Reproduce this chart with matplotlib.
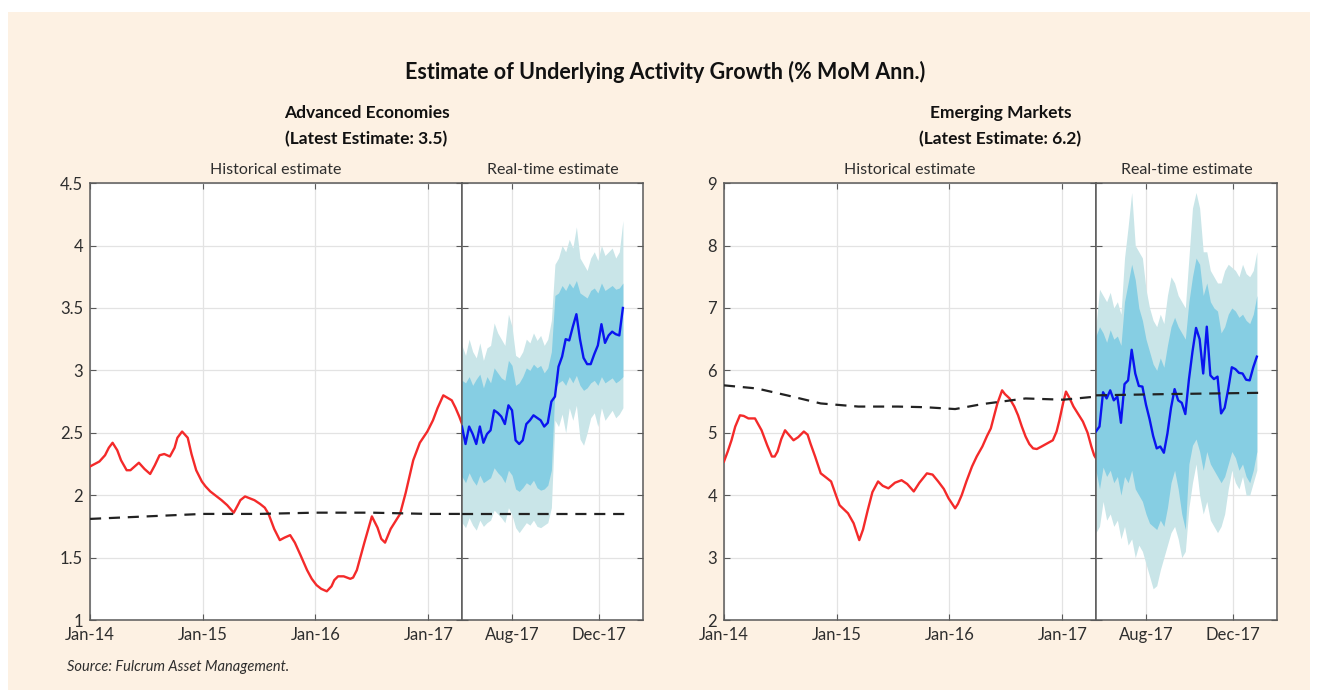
import numpy as np
import pandas as pd
import matplotlib
matplotlib.use("Agg")
import matplotlib.pyplot as plt
import matplotlib.dates as mdates
from matplotlib.patches import Rectangle

plt.rcParams['font.family'] = ['Lato', 'DejaVu Sans']

# ---------------- data ----------------
# historical part: months since Jan-14
ae_hist_month = [0, 1.0, 1.6, 2.0, 2.4, 2.9, 3.3, 3.9, 4.3, 4.6, 5.2, 5.8, 6.4, 6.9, 7.4, 7.9, 8.5, 9.0,
                 9.3, 9.8, 10.4, 10.8, 11.3, 11.9, 12.3, 12.8, 14.0, 14.6, 15.3, 15.8, 16.0, 16.5, 17.5,
                 18.1, 18.6, 19.0, 19.6, 20.2, 20.7, 21.3, 21.8, 22.4, 23.1, 23.6, 24.1, 24.6, 25.2,
                 25.7, 26.0, 26.4, 27.0, 27.7, 28.0, 28.4, 29.2, 30.0, 30.6, 31.0, 31.4, 32.0, 33.0,
                 33.6, 34.4, 35.1, 35.9, 36.5, 37.0, 37.6, 38.5, 38.9, 39.3, 39.6]
ae_hist_value = [2.23, 2.27, 2.32, 2.38, 2.42, 2.36, 2.28, 2.20, 2.20, 2.22, 2.26, 2.21, 2.17, 2.24, 2.32,
                 2.33, 2.31, 2.38, 2.46, 2.51, 2.46, 2.33, 2.20, 2.11, 2.07, 2.03, 1.96, 1.92, 1.86,
                 1.93, 1.96, 1.99, 1.96, 1.93, 1.90, 1.85, 1.73, 1.64, 1.66, 1.68, 1.62, 1.52, 1.40,
                 1.33, 1.28, 1.25, 1.23, 1.27, 1.32, 1.35, 1.35, 1.33, 1.34, 1.40, 1.62, 1.83, 1.74,
                 1.65, 1.62, 1.73, 1.85, 2.02, 2.28, 2.42, 2.51, 2.60, 2.70, 2.80, 2.76, 2.70, 2.63, 2.57]
ae_trend_month = [0, 6, 12, 18, 24, 30, 36, 39.6]
ae_trend_value = [1.81, 1.83, 1.85, 1.85, 1.86, 1.86, 1.85, 1.85]

em_hist_month = [0, 0.4, 0.8, 1.2, 1.7, 2.1, 2.6, 3.3, 4.0, 4.6, 5.1, 5.4, 5.7, 6.1, 6.5, 7.0, 7.4, 7.9,
                 8.5, 8.9, 9.2, 9.7, 10.3, 10.9, 11.4, 11.8, 12.3, 13.2, 13.8, 14.4, 14.8, 15.3, 15.8,
                 16.4, 16.9, 17.5, 18.2, 18.9, 19.5, 20.2, 20.8, 21.6, 22.2, 22.8, 23.4, 23.9, 24.6,
                 24.9, 25.3, 25.8, 26.4, 26.9, 27.5, 28.0, 28.4, 28.8, 29.1, 29.6, 29.9, 30.4, 30.9,
                 31.3, 31.7, 32.1, 32.5, 32.9, 33.3, 33.8, 34.4, 35.0, 35.4, 35.7, 36.1, 36.4, 36.8,
                 37.2, 37.7, 38.2, 38.7, 39.1, 39.4, 39.6]
em_hist_value = [4.54, 4.70, 4.88, 5.10, 5.28, 5.27, 5.23, 5.23, 5.04, 4.80, 4.62, 4.62, 4.70, 4.90, 5.04,
                 4.95, 4.88, 4.93, 5.02, 4.97, 4.83, 4.62, 4.35, 4.28, 4.22, 4.05, 3.84, 3.71, 3.55,
                 3.28, 3.45, 3.76, 4.05, 4.22, 4.15, 4.11, 4.20, 4.24, 4.18, 4.06, 4.20, 4.35, 4.33,
                 4.22, 4.10, 3.95, 3.79, 3.86, 4.00, 4.22, 4.46, 4.62, 4.78, 4.95, 5.07, 5.30, 5.47,
                 5.68, 5.62, 5.55, 5.42, 5.28, 5.10, 4.94, 4.82, 4.75, 4.74, 4.78, 4.83, 4.88, 5.02,
                 5.20, 5.48, 5.66, 5.55, 5.42, 5.30, 5.18, 5.00, 4.78, 4.64, 4.59]
em_trend_month = [0, 3.5, 6.7, 10.3, 14.3, 18.5, 21.4, 24.6, 27.5, 32.1, 36.1, 39.6]
em_trend_value = [5.76, 5.71, 5.60, 5.47, 5.42, 5.42, 5.41, 5.38, 5.46, 5.55, 5.53, 5.58]

# real-time part: days since 23 May 2017, every 5 days
rt_day = list(range(0, 226, 5))

ae_rt = [2.55, 2.41, 2.55, 2.49, 2.41, 2.55, 2.42, 2.49, 2.52, 2.68, 2.66, 2.63, 2.57, 2.72, 2.68, 2.44,
         2.41, 2.44, 2.57, 2.60, 2.64, 2.62, 2.60, 2.55, 2.58, 2.75, 2.79, 3.03, 3.11, 3.25, 3.24, 3.35,
         3.45, 3.25, 3.10, 3.05, 3.05, 3.13, 3.20, 3.37, 3.22, 3.28, 3.31, 3.29, 3.28, 3.50]
ae_inner_hi = [2.92, 2.90, 2.95, 2.88, 2.93, 2.97, 2.86, 2.95, 2.90, 3.02, 2.98, 2.94, 2.92, 3.08, 3.04, 2.88,
               2.90, 2.95, 3.02, 3.00, 3.05, 3.02, 3.04, 2.98, 3.02, 3.15, 3.60, 3.62, 3.68, 3.64, 3.70, 3.66,
               3.72, 3.62, 3.60, 3.58, 3.64, 3.66, 3.62, 3.70, 3.64, 3.66, 3.68, 3.65, 3.66, 3.70]
ae_inner_lo = [2.15, 2.10, 2.18, 2.12, 2.08, 2.16, 2.10, 2.12, 2.14, 2.22, 2.18, 2.15, 2.10, 2.20, 2.16, 2.05,
               2.03, 2.06, 2.10, 2.08, 2.12, 2.06, 2.04, 2.05, 2.08, 2.20, 2.85, 2.90, 2.92, 2.88, 2.95, 2.90,
               2.96, 2.88, 2.84, 2.86, 2.90, 2.92, 2.88, 2.95, 2.90, 2.92, 2.94, 2.90, 2.92, 2.95]
ae_outer_hi = [3.20, 3.12, 3.25, 3.15, 3.10, 3.22, 3.08, 3.18, 3.20, 3.38, 3.30, 3.25, 3.20, 3.45, 3.35, 3.12,
               3.10, 3.15, 3.25, 3.22, 3.30, 3.24, 3.28, 3.20, 3.25, 3.40, 3.85, 3.90, 4.00, 3.95, 4.05, 3.98,
               4.15, 3.90, 3.85, 3.80, 3.90, 3.95, 3.88, 4.00, 3.92, 3.95, 3.98, 3.90, 3.95, 4.20]
ae_outer_lo = [1.78, 1.74, 1.82, 1.76, 1.72, 1.80, 1.75, 1.78, 1.80, 1.88, 1.85, 1.82, 1.78, 1.90, 1.84, 1.74,
               1.70, 1.74, 1.78, 1.76, 1.80, 1.75, 1.74, 1.76, 1.78, 1.90, 2.60, 2.55, 2.65, 2.50, 2.70, 2.60,
               2.72, 2.45, 2.40, 2.50, 2.62, 2.66, 2.55, 2.70, 2.60, 2.64, 2.68, 2.62, 2.65, 2.70]
ae_rt_trend_day = [0, 228]
ae_rt_trend_value = [1.85, 1.85]

em_rt = [5.02, 5.10, 5.65, 5.55, 5.68, 5.52, 5.58, 5.16, 5.78, 5.84, 6.33, 5.95, 5.75, 5.74, 5.45, 5.22,
         4.95, 4.75, 4.78, 4.68, 4.99, 5.40, 5.70, 5.52, 5.48, 5.30, 5.85, 6.30, 6.68, 6.50, 5.95, 6.70,
         5.92, 5.86, 5.90, 5.31, 5.40, 5.70, 6.05, 6.02, 5.96, 5.95, 5.85, 5.84, 6.05, 6.22]
em_inner_hi = [6.55, 6.70, 6.60, 6.45, 6.65, 6.50, 6.55, 6.40, 7.10, 7.40, 7.70, 7.45, 7.00, 6.80, 6.50, 6.30,
               6.10, 6.00, 6.20, 6.05, 6.40, 6.70, 6.85, 6.70, 6.60, 6.50, 7.10, 7.50, 7.80, 7.70, 7.20, 7.40,
               7.10, 7.00, 6.95, 6.60, 6.70, 6.90, 7.00, 6.95, 6.85, 6.90, 6.80, 6.75, 6.90, 7.20]
em_inner_lo = [4.40, 4.10, 4.45, 4.30, 4.40, 4.20, 4.30, 4.00, 4.30, 4.20, 4.40, 4.10, 4.00, 3.90, 3.70, 3.55,
               3.50, 3.45, 3.60, 3.50, 3.80, 4.20, 4.40, 4.10, 3.70, 3.45, 4.50, 4.80, 4.90, 4.70, 4.40, 4.70,
               4.50, 4.40, 4.30, 4.20, 4.30, 4.50, 4.70, 4.60, 4.40, 4.50, 4.30, 4.20, 4.40, 4.70]
em_outer_hi = [6.70, 7.30, 7.20, 7.10, 7.25, 7.00, 7.10, 6.90, 7.80, 8.30, 8.85, 8.00, 7.90, 7.80, 7.30, 7.00,
               6.80, 6.70, 6.90, 6.75, 7.20, 7.50, 7.40, 7.20, 7.10, 7.00, 7.80, 8.60, 8.85, 8.60, 7.90, 7.90,
               7.60, 7.50, 7.40, 7.40, 7.60, 7.70, 7.65, 7.60, 7.50, 7.70, 7.55, 7.50, 7.60, 7.90]
em_outer_lo = [3.40, 3.50, 3.90, 3.60, 3.70, 3.50, 3.60, 3.30, 3.50, 3.20, 3.30, 3.00, 3.20, 3.10, 2.90, 2.70,
               2.50, 2.55, 2.80, 3.00, 3.20, 3.40, 3.50, 3.30, 3.00, 3.10, 3.80, 4.20, 4.50, 4.00, 3.70, 3.90,
               3.60, 3.50, 3.40, 3.50, 3.70, 4.10, 4.40, 4.20, 4.10, 4.30, 4.00, 4.00, 4.20, 4.40]
em_rt_trend_day = [0, 100, 228]
em_rt_trend_value = [5.60, 5.62, 5.64]

hist_ticks = ['2014-01-01', '2015-01-01', '2016-01-01', '2017-01-01']
rt_ticks = ['2017-08-01', '2017-12-01']

# ---------------- style ----------------
BG = '#FDF1E3'
RED = '#F42A2A'
BLUE = '#0A14F0'
INNER = '#86CEE3'
OUTER = '#C9E5E8'
GRID = '#E3E3E3'
SPINE = '#5A5A5A'
TXT = '#2E2E2E'

HIST_START = pd.Timestamp('2014-01-01')
HIST_END = pd.Timestamp('2017-04-20')
RT_START = pd.Timestamp('2017-05-23')
RT_END = pd.Timestamp('2018-01-31')


def month_to_date(months):
    return HIST_START + pd.to_timedelta(np.array(months) * 30.44, unit='D')


def day_to_date(days):
    return RT_START + pd.to_timedelta(np.array(days), unit='D')


def style_axis(ax, ylim, yticks, xticks, show_ylabels):
    ax.set_ylim(*ylim)
    ax.set_yticks(yticks)
    ax.set_xticks([pd.Timestamp(t) for t in xticks])
    ax.xaxis.set_major_formatter(mdates.DateFormatter('%b-%y'))
    ax.grid(True, color=GRID, lw=0.9)
    ax.set_axisbelow(True)
    ax.tick_params(direction='in', length=4, width=0.8, color=SPINE, top=True, right=True,
                   labelsize=12, labelcolor=TXT, pad=5)
    if not show_ylabels:
        ax.tick_params(labelleft=False)
    else:
        ax.set_yticklabels(['%g' % t for t in yticks])
    for s in ax.spines.values():
        s.set_color(SPINE)
        s.set_linewidth(1.1)


def draw_panel(x0, title, latest, hist_m, hist_v, trend_m, trend_v,
               rt_v, in_hi, in_lo, out_hi, out_lo, rt_trend_d, rt_trend_v, ylim, yticks):
    bottom, height = 0.113, 0.625
    w_hist, w_rt = 0.2822, 0.1373
    ax_h = fig.add_axes([x0, bottom, w_hist, height])
    ax_r = fig.add_axes([x0 + w_hist, bottom, w_rt, height])

    # historical estimate
    ax_h.plot(month_to_date(hist_m), hist_v, color=RED, lw=1.7, zorder=3)
    ax_h.plot(month_to_date(trend_m), trend_v, color='#222222', lw=1.6, ls=(0, (5, 3.5)), zorder=4)
    ax_h.set_xlim(HIST_START, HIST_END)
    style_axis(ax_h, ylim, yticks, hist_ticks, True)

    # real-time estimate with bands
    d = day_to_date(rt_day)
    ax_r.fill_between(d, out_lo, out_hi, color=OUTER, lw=0, zorder=1)
    ax_r.fill_between(d, in_lo, in_hi, color=INNER, lw=0, zorder=2)
    ax_r.plot(d, rt_v, color=BLUE, lw=1.7, zorder=3)
    ax_r.plot(day_to_date(rt_trend_d), rt_trend_v, color='#222222', lw=1.6, ls=(0, (5, 3.5)), zorder=4)
    ax_r.set_xlim(RT_START, RT_END)
    style_axis(ax_r, ylim, yticks, rt_ticks, False)

    cx = x0 + (w_hist + w_rt) / 2
    fig.text(cx, 0.838, title, ha='center', va='center', fontsize=12.5, fontweight='bold', color='#111111')
    fig.text(cx, 0.801, '(Latest Estimate: %s)' % latest, ha='center', va='center',
             fontsize=12.5, fontweight='bold', color='#111111')
    fig.text(x0 + w_hist / 2, 0.757, 'Historical estimate', ha='center', va='center', fontsize=11.5, color=TXT)
    fig.text(x0 + w_hist + w_rt / 2, 0.757, 'Real-time estimate', ha='center', va='center',
             fontsize=11.5, color=TXT)


fig = plt.figure(figsize=(13.18, 6.99), dpi=100)
fig.patch.set_facecolor('white')
fig.patches.append(Rectangle((8 / 1318, 1 - 690 / 699), 1302 / 1318, 678 / 699,
                             transform=fig.transFigure, facecolor=BG, edgecolor='none', zorder=-2))

draw_panel(0.0683, 'Advanced Economies', '3.5', ae_hist_month, ae_hist_value, ae_trend_month, ae_trend_value,
           ae_rt, ae_inner_hi, ae_inner_lo, ae_outer_hi, ae_outer_lo, ae_rt_trend_day, ae_rt_trend_value,
           (1, 4.5), [1, 1.5, 2, 2.5, 3, 3.5, 4, 4.5])
draw_panel(0.5493, 'Emerging Markets', '6.2', em_hist_month, em_hist_value, em_trend_month, em_trend_value,
           em_rt, em_inner_hi, em_inner_lo, em_outer_hi, em_outer_lo, em_rt_trend_day, em_rt_trend_value,
           (2, 9), [2, 3, 4, 5, 6, 7, 8, 9])

fig.text(0.505, 0.897, 'Estimate of Underlying Activity Growth (% MoM Ann.)', ha='center', va='center',
         fontsize=15.5, fontweight='bold', color='#111111')
fig.text(67 / 1318, 1 - 667 / 699, 'Source: Fulcrum Asset Management.', ha='left', va='center',
         fontsize=10.5, style='italic', color=TXT)

fig.savefig('out.png', dpi=100, facecolor=fig.get_facecolor())
